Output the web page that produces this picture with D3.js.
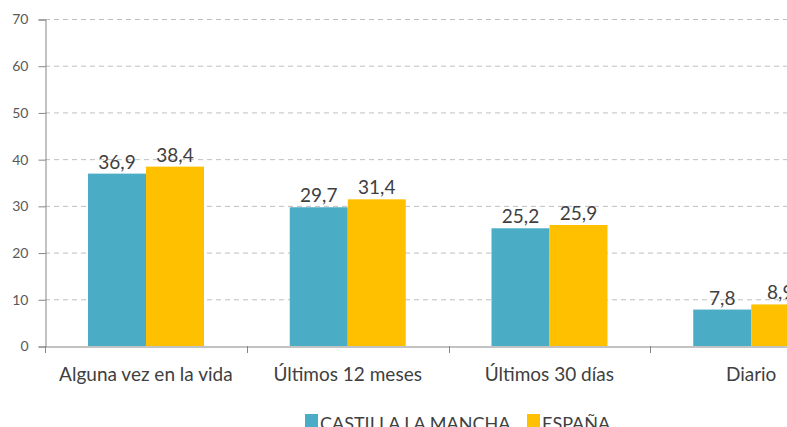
<!DOCTYPE html>
<html>
<head>
<meta charset="utf-8">
<script src="https://cdn.jsdelivr.net/npm/d3@7"></script>
<style>
  body { margin: 0; background: #fff; }
  svg { display: block; font-family: Lato, "Open Sans", sans-serif; }
</style>
</head>
<body>
<div id="chart-area"></div>
<script>
const categories = ["Alguna vez en la vida", "Últimos 12 meses", "Últimos 30 días", "Diario"]
const seriesNames = ["CASTILLA LA MANCHA", "ESPAÑA"]
const castilla = [36.9, 29.7, 25.2, 7.8]
const espana = [38.4, 31.4, 25.9, 8.9]
const yTicks = [0, 10, 20, 30, 40, 50, 60, 70]
const colors = ["#4BACC6", "#FFC000"]

const MARGIN = { LEFT: 45, TOP: 19 }
const WIDTH = 807
const HEIGHT = 327

const svg = d3.select("#chart-area").append("svg")
  .attr("width", 787)
  .attr("height", 427)

const g = svg.append("g")
  .attr("transform", `translate(${MARGIN.LEFT}, ${MARGIN.TOP})`)

const x = d3.scaleBand()
  .domain(categories)
  .range([0, WIDTH])

const xs = d3.scaleBand()
  .domain(seriesNames)
  .range([43, 159])

const y = d3.scaleLinear()
  .domain([0, 70])
  .range([HEIGHT, 0])

// dashed grid
g.selectAll("line.grid")
  .data(yTicks.filter(d => d > 0))
  .enter().append("line")
  .attr("class", "grid")
  .attr("x1", 0)
  .attr("x2", WIDTH)
  .attr("y1", d => y(d) + 0.5)
  .attr("y2", d => y(d) + 0.5)
  .attr("stroke", "#bfbfbf")
  .attr("stroke-dasharray", "5,4")

// y axis
const yAxis = g.append("g")
  .attr("transform", "translate(0.5, 0.5)")
  .call(d3.axisLeft(y).tickValues(yTicks).tickSize(7).tickPadding(10).tickFormat(d => d))
yAxis.select(".domain").attr("stroke", "#868686")
yAxis.selectAll(".tick line").attr("stroke", "#868686")
yAxis.selectAll("text")
  .attr("fill", "#595959")
  .attr("font-size", "14px")
  .attr("font-family", "Lato, sans-serif")

// bars
const data = categories.map((c, i) => ({ cat: c, values: [castilla[i], espana[i]] }))

const groups = g.selectAll("g.cat")
  .data(data)
  .enter().append("g")
  .attr("class", "cat")
  .attr("transform", d => `translate(${x(d.cat)}, 0)`)

groups.selectAll("rect")
  .data(d => d.values.map((v, j) => ({ name: seriesNames[j], v, j })))
  .enter().append("rect")
  .attr("x", d => xs(d.name))
  .attr("width", xs.bandwidth())
  .attr("y", d => y(d.v))
  .attr("height", d => y(0) - y(d.v))
  .attr("fill", d => colors[d.j])

groups.selectAll("text")
  .data(d => d.values.map((v, j) => ({ name: seriesNames[j], v })))
  .enter().append("text")
  .attr("x", d => xs(d.name) + xs.bandwidth() / 2)
  .attr("y", d => y(d.v) - 5)
  .attr("text-anchor", "middle")
  .attr("font-size", "19px")
  .attr("fill", "#404040")
  .text(d => d3.format(".1f")(d.v).replace(".", ","))

// x axis
const xAxis = g.append("g")
  .attr("transform", `translate(0, ${HEIGHT + 0.5})`)
  .call(d3.axisBottom(x).tickSize(0).tickPadding(21))
xAxis.select(".domain").attr("stroke", "#868686")
xAxis.selectAll("text")
  .attr("fill", "#404040")
  .attr("font-size", "19px")
  .attr("font-family", "Lato, sans-serif")

// category boundary ticks
g.selectAll("line.bound")
  .data(categories)
  .enter().append("line")
  .attr("class", "bound")
  .attr("x1", d => Math.round(x(d)) + 0.5)
  .attr("x2", d => Math.round(x(d)) + 0.5)
  .attr("y1", HEIGHT)
  .attr("y2", HEIGHT + 7)
  .attr("stroke", "#868686")

// legend
const legend = svg.append("g")
  .attr("transform", "translate(305, 414)")
const legendX = [0, 222]
seriesNames.forEach((s, i) => {
  legend.append("rect")
    .attr("x", legendX[i])
    .attr("y", 0)
    .attr("width", 13)
    .attr("height", 13)
    .attr("fill", colors[i])
  legend.append("text")
    .attr("x", legendX[i] + 15)
    .attr("y", 16)
    .attr("font-size", "18px")
    .attr("fill", "#404040")
    .text(s)
})
</script>
</body>
</html>
